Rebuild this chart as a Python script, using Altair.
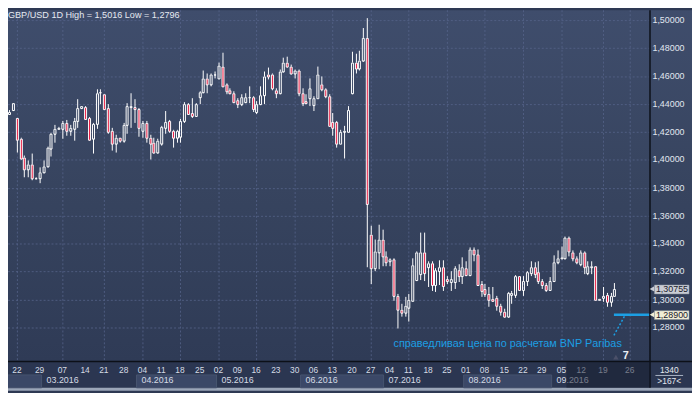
import altair as alt
import pandas as pd

# ---------------- data ----------------
opens = [1.4330, 1.4354, 1.4297, 1.4149, 1.4019, 1.3930, 1.3967, 1.3870, 1.3866, 1.3913,
         1.3953, 1.4078, 1.4184, 1.4224, 1.4220, 1.4267, 1.4208, 1.4220, 1.4278, 1.4368,
         1.4377, 1.4302, 1.4149, 1.4260, 1.4481, 1.4467, 1.4368, 1.4208, 1.4113, 1.4156,
         1.4137, 1.4250, 1.4377, 1.4377, 1.4361, 1.4208, 1.4267, 1.4161, 1.4125, 1.4054,
         1.4113, 1.4231, 1.4278, 1.4208, 1.4156, 1.4165, 1.4278, 1.4401, 1.4337, 1.4314,
         1.4448, 1.4486, 1.4580, 1.4538, 1.4609, 1.4585, 1.4668, 1.4538, 1.4495, 1.4479,
         1.4425, 1.4401, 1.4415, 1.4448, 1.4448, 1.4345, 1.4396, 1.4462, 1.4609, 1.4609,
         1.4495, 1.4479, 1.4632, 1.4698, 1.4668, 1.4616, 1.4637, 1.4479, 1.4420, 1.4439,
         1.4392, 1.4439, 1.4543, 1.4502, 1.4455, 1.4274, 1.4274, 1.4113, 1.4203, 1.4203,
         1.4479, 1.4698, 1.4651, 1.4708, 1.4873, 1.3465, 1.3222, 1.3340, 1.3429, 1.3307,
         1.3276, 1.3288, 1.3024, 1.2929, 1.2906, 1.2939, 1.2993, 1.3143, 1.3183, 1.3340,
         1.3229, 1.3260, 1.3104, 1.3205, 1.3229, 1.3146, 1.3127, 1.3127, 1.3212, 1.3165,
         1.3222, 1.3175, 1.3359, 1.3323, 1.3111, 1.3076, 1.3040, 1.3005, 1.3010, 1.2953,
         1.2911, 1.2875, 1.3033, 1.3033, 1.3165, 1.3071, 1.3135, 1.3189, 1.3229, 1.3194,
         1.3135, 1.3104, 1.3071, 1.3135, 1.3264, 1.3293, 1.3293, 1.3441, 1.3340, 1.3293,
         1.3252, 1.3340, 1.3189, 1.3229, 1.3236, 1.3000, 1.3010, 1.3033, 1.2986, 1.3029]
highs = [1.4356, 1.4406, 1.4300, 1.4156, 1.4031, 1.3996, 1.4042, 1.3875, 1.3948, 1.3996,
         1.4094, 1.4196, 1.4250, 1.4233, 1.4278, 1.4283, 1.4250, 1.4302, 1.4432, 1.4387,
         1.4382, 1.4307, 1.4267, 1.4502, 1.4507, 1.4472, 1.4396, 1.4231, 1.4177, 1.4160,
         1.4267, 1.4408, 1.4474, 1.4432, 1.4368, 1.4278, 1.4278, 1.4179, 1.4156, 1.4149,
         1.4243, 1.4349, 1.4283, 1.4212, 1.4212, 1.4290, 1.4415, 1.4408, 1.4443, 1.4408,
         1.4491, 1.4637, 1.4620, 1.4620, 1.4632, 1.4698, 1.4769, 1.4550, 1.4514, 1.4491,
         1.4439, 1.4472, 1.4479, 1.4526, 1.4455, 1.4420, 1.4526, 1.4632, 1.4661, 1.4620,
         1.4514, 1.4644, 1.4731, 1.4738, 1.4684, 1.4644, 1.4644, 1.4514, 1.4467, 1.4580,
         1.4455, 1.4668, 1.4597, 1.4514, 1.4467, 1.4337, 1.4278, 1.4212, 1.4243, 1.4384,
         1.4774, 1.4762, 1.4778, 1.4943, 1.5016, 1.3530, 1.3430, 1.3535, 1.3500, 1.3347,
         1.3293, 1.3293, 1.3040, 1.2969, 1.3017, 1.3040, 1.3293, 1.3347, 1.3482, 1.3477,
         1.3271, 1.3276, 1.3222, 1.3283, 1.3283, 1.3170, 1.3205, 1.3241, 1.3252, 1.3299,
         1.3276, 1.3371, 1.3371, 1.3359, 1.3135, 1.3111, 1.3088, 1.3088, 1.3024, 1.2969,
         1.2934, 1.3057, 1.3064, 1.3175, 1.3170, 1.3170, 1.3205, 1.3271, 1.3264, 1.3276,
         1.3146, 1.3118, 1.3158, 1.3316, 1.3354, 1.3378, 1.3448, 1.3448, 1.3354, 1.3307,
         1.3354, 1.3347, 1.3271, 1.3276, 1.3241, 1.3005, 1.3088, 1.3048, 1.3048, 1.3118]
lows = [1.4321, 1.4350, 1.4054, 1.4003, 1.3877, 1.3877, 1.3854, 1.3863, 1.3835, 1.3901,
        1.3948, 1.4024, 1.4125, 1.4220, 1.4153, 1.4172, 1.4172, 1.4137, 1.4231, 1.4366,
        1.4283, 1.4137, 1.4047, 1.4220, 1.4396, 1.4361, 1.4189, 1.4066, 1.4054, 1.4125,
        1.4125, 1.4189, 1.4231, 1.4262, 1.4165, 1.4161, 1.4125, 1.4003, 1.4042, 1.4042,
        1.4102, 1.4189, 1.4196, 1.4090, 1.4125, 1.4125, 1.4267, 1.4326, 1.4297, 1.4314,
        1.4396, 1.4479, 1.4474, 1.4526, 1.4580, 1.4580, 1.4526, 1.4467, 1.4467, 1.4408,
        1.4373, 1.4384, 1.4408, 1.4408, 1.4345, 1.4330, 1.4392, 1.4401, 1.4573, 1.4495,
        1.4439, 1.4472, 1.4627, 1.4661, 1.4609, 1.4585, 1.4455, 1.4384, 1.4396, 1.4384,
        1.4349, 1.4439, 1.4491, 1.4443, 1.4243, 1.4172, 1.4085, 1.4113, 1.4007, 1.4203,
        1.4472, 1.4620, 1.4637, 1.4700, 1.3231, 1.3111, 1.3200, 1.3218, 1.3241, 1.3241,
        1.3241, 1.2993, 1.2796, 1.2875, 1.2875, 1.2840, 1.2993, 1.3129, 1.3136, 1.3129,
        1.3088, 1.3064, 1.3057, 1.3104, 1.3064, 1.3111, 1.3064, 1.3076, 1.3123, 1.3111,
        1.3165, 1.3170, 1.3276, 1.3099, 1.3017, 1.3017, 1.2946, 1.2981, 1.2922, 1.2887,
        1.2868, 1.2868, 1.2969, 1.3010, 1.3064, 1.3024, 1.3099, 1.3170, 1.3151, 1.3111,
        1.3076, 1.3057, 1.3064, 1.3127, 1.3252, 1.3288, 1.3288, 1.3307, 1.3276, 1.3252,
        1.3241, 1.3182, 1.3175, 1.3182, 1.3000, 1.2998, 1.2982, 1.2946, 1.2946, 1.3024]
closes = [1.4345, 1.4403, 1.4142, 1.4012, 1.3930, 1.3967, 1.3866, 1.3868, 1.3913, 1.3953,
          1.4085, 1.4184, 1.4220, 1.4229, 1.4267, 1.4208, 1.4227, 1.4278, 1.4373, 1.4384,
          1.4290, 1.4142, 1.4260, 1.4479, 1.4486, 1.4361, 1.4203, 1.4113, 1.4156, 1.4137,
          1.4250, 1.4384, 1.4384, 1.4361, 1.4227, 1.4267, 1.4161, 1.4118, 1.4054, 1.4137,
          1.4236, 1.4274, 1.4208, 1.4156, 1.4208, 1.4278, 1.4401, 1.4330, 1.4314, 1.4401,
          1.4486, 1.4585, 1.4538, 1.4613, 1.4613, 1.4675, 1.4526, 1.4491, 1.4479, 1.4415,
          1.4401, 1.4448, 1.4448, 1.4451, 1.4361, 1.4401, 1.4462, 1.4597, 1.4597, 1.4510,
          1.4479, 1.4632, 1.4698, 1.4668, 1.4620, 1.4637, 1.4479, 1.4408, 1.4408, 1.4510,
          1.4439, 1.4609, 1.4502, 1.4455, 1.4243, 1.4227, 1.4113, 1.4203, 1.4205, 1.4354,
          1.4698, 1.4651, 1.4708, 1.4873, 1.3684, 1.3222, 1.3347, 1.3429, 1.3307, 1.3264,
          1.3288, 1.3024, 1.2929, 1.2906, 1.2953, 1.3000, 1.3245, 1.3340, 1.3340, 1.3189,
          1.3260, 1.3104, 1.3212, 1.3229, 1.3099, 1.3135, 1.3146, 1.3222, 1.3165, 1.3229,
          1.3175, 1.3359, 1.3323, 1.3104, 1.3064, 1.3040, 1.3000, 1.2993, 1.2953, 1.2911,
          1.2875, 1.3047, 1.3047, 1.3165, 1.3071, 1.3135, 1.3198, 1.3229, 1.3182, 1.3135,
          1.3104, 1.3071, 1.3135, 1.3264, 1.3293, 1.3300, 1.3441, 1.3347, 1.3293, 1.3264,
          1.3340, 1.3229, 1.3236, 1.3236, 1.3000, 1.3002, 1.3029, 1.2986, 1.3029, 1.30755]

price_ticks = [1.28, 1.30, 1.32, 1.34, 1.36, 1.38, 1.40, 1.42, 1.44, 1.46, 1.48, 1.50]
price_labels = ["1,28000", "1,30000", "1,32000", "1,34000", "1,36000", "1,38000",
                "1,40000", "1,42000", "1,44000", "1,46000", "1,48000", "1,50000"]

# weekly date labels and their place on the candle index axis
day_labels = ["22", "29", "07", "14", "21", "28", "04", "11", "18", "25", "02", "09", "16",
              "23", "30", "06", "13", "20", "27", "04", "11", "18", "25", "01", "08", "15",
              "22", "29", "05", "12", "19", "26"]
day_pos = [2, 8, 14, 20, 25, 30, 35, 40, 45, 50, 55, 60, 65, 70, 75, 80, 85, 90, 95, 100,
           105, 110, 115, 120, 125, 130, 135, 140, 145, 150.4, 156.1, 163]
grid_pos = [2, 14, 25, 35, 45, 55, 65, 75, 85, 95, 105, 115, 125, 135, 145, 156.1, 163]

months = ["02.2016", "03.2016", "04.2016", "05.2016", "06.2016", "07.2016", "08.2016", "09.2016"]
month_start = [-0.5, 8.5, 33.5, 54.5, 76.5, 98.5, 119.5, 142.5]
month_end = [8.5, 33.5, 54.5, 76.5, 98.5, 119.5, 142.5, 170]
month_shaded = [True, False, True, False, True, False, True, False]

last_price = 1.30755
fair_value = 1.28900
tag_labels = ["1,30755", "1,28900"]
title_text = "GBP/USD 1D High = 1,5016 Low = 1,2796"
note_text = "справедливая цена по расчетам BNP Paribas"
note_link_i = [158.9, 161.7]
note_link_p = [1.2745, 1.2887]

# ---------------- layout ----------------
W, H = 692, 385          # whole chart (page minus 8px margin)
PR = 649                 # x of right price panel separator
PB = 355                 # y of date axis top
X0, DX = -4.0, 3.908     # chart x of candle 0, px per candle
Y0, KY = 10.0, 1413.6    # chart y of price 1.50, px per unit of price

xs = alt.Scale(domain=[(0 - X0) / DX, (W - X0) / DX], nice=False, zero=False, round=True)
ys = alt.Scale(domain=[1.5 - (H - Y0) / KY, 1.5 + Y0 / KY], nice=False, zero=False, round=True)

one = pd.DataFrame({"a": [0]})
FONT = "Liberation Sans"

df = pd.DataFrame({"i": range(len(opens)), "o": opens, "h": highs, "l": lows, "c": closes})
df["top"] = df[["o", "c"]].max(axis=1)
df["bot"] = df[["o", "c"]].min(axis=1)
df["up"] = df["c"] >= df["o"]

X = lambda f: alt.X(f, type="quantitative", scale=xs, axis=None)
Y = lambda f: alt.Y(f, type="quantitative", scale=ys, axis=None)

grad = alt.LinearGradient(
    gradient="linear", x1=0, x2=0, y1=0, y2=1,
    stops=[alt.GradientStop(color="#3f4d6c", offset=0),
           alt.GradientStop(color="#37445f", offset=0.5),
           alt.GradientStop(color="#2f3b56", offset=1)])

bg = alt.Chart(one).mark_rect(fill=grad).encode(
    x=alt.value(0), x2=alt.value(W), y=alt.value(0), y2=alt.value(PB))
strip = alt.Chart(one).mark_rect(fill="#2b3651").encode(
    x=alt.value(0), x2=alt.value(W), y=alt.value(PB), y2=alt.value(H))
border = alt.Chart(one).mark_rect(fill="#9ba6b8").encode(
    x=alt.value(0), x2=alt.value(W), y=alt.value(H - 3), y2=alt.value(H))

mdf = pd.DataFrame({"m": months, "s": month_start, "e": month_end, "sh": month_shaded})
mboxes = alt.Chart(mdf).transform_filter("datum.sh").mark_rect(
    fill="#3b4867", stroke="#47546f", strokeWidth=1).encode(
    x=X("s"), x2="e", y=alt.value(369), y2=alt.value(382))
mtext = alt.Chart(mdf).transform_filter("datum.s > 0").mark_text(
    font=FONT, fontSize=9, color="#d5dbe5", align="left", baseline="middle", dx=5).encode(
    x=X("s"), y=alt.value(374.5), text="m:N")

gdf = pd.DataFrame({"g": grid_pos})
vgrid = alt.Chart(gdf).mark_rule(color="#56648a", strokeDash=[2, 2], strokeWidth=1,
                                 xOffset=0.5, opacity=0.8).encode(
    x=X("g"), y=alt.value(0), y2=alt.value(PB))
pdf = pd.DataFrame({"p": price_ticks, "t": price_labels})
hgrid = alt.Chart(pdf).mark_rule(color="#56648a", strokeDash=[2, 2], strokeWidth=1,
                                 yOffset=0.5, opacity=0.8).encode(
    y=Y("p"), x=alt.value(0), x2=alt.value(PR))
plabels = alt.Chart(pdf).mark_text(font=FONT, fontSize=9, color="#e0e6ef",
                                   align="left", baseline="middle").encode(
    y=Y("p"), x=alt.value(652), text="t:N")

ddf = pd.DataFrame({"d": day_labels, "x": day_pos})
dlabels = alt.Chart(ddf).mark_text(font=FONT, fontSize=8.5, color="#d5dbe5",
                                   align="center", baseline="middle").encode(
    x=X("x"), y=alt.value(363.7), text="d:N")

wick_hi = alt.Chart(df).mark_rule(color="white", strokeWidth=1, xOffset=0.5).encode(
    x=X("i"), y=Y("h"), y2="top")
wick_lo = alt.Chart(df).mark_rule(color="white", strokeWidth=1, xOffset=0.5).encode(
    x=X("i"), y=Y("bot"), y2="l")
bull = alt.Chart(df).transform_filter("datum.up").mark_bar(
    size=2, fillOpacity=0, stroke="white", strokeWidth=1,
    xOffset=0.5, yOffset=0.5, y2Offset=0.5).encode(x=X("i"), y=Y("top"), y2="bot")
bear = alt.Chart(df).transform_filter("!datum.up").mark_bar(
    size=2, fill="#e8143c", stroke="white", strokeWidth=1,
    xOffset=0.5, yOffset=0.5, y2Offset=0.5).encode(x=X("i"), y=Y("top"), y2="bot")

sep_v = alt.Chart(one).mark_rule(color="#0c1018", strokeWidth=1.5).encode(
    x=alt.value(PR + 0.5), y=alt.value(0), y2=alt.value(H - 3))
sep_h = alt.Chart(one).mark_rule(color="#0c1018", strokeWidth=1.5).encode(
    y=alt.value(PB + 0.5), x=alt.value(0), x2=alt.value(W))

fv = pd.DataFrame({"i": [note_link_i[0]], "p": [fair_value]})
fv_line = alt.Chart(fv).mark_rule(color="#1c9fe4", strokeWidth=2.5).encode(
    x=X("i"), x2=alt.value(PR), y=Y("p"))
ldf = pd.DataFrame({"i": [note_link_i[0]], "i2": [note_link_i[1]],
                    "p": [note_link_p[0]], "p2": [note_link_p[1]]})
link = alt.Chart(ldf).mark_rule(color="#1c9fe4", strokeWidth=1.5, strokeDash=[2, 2]).encode(
    x=X("i"), x2="i2", y=Y("p"), y2="p2")
note = alt.Chart(one).mark_text(font=FONT, fontSize=11, color="#1c9fe4",
                                align="right", baseline="middle").encode(
    x=alt.value(621), y=alt.value(338), text=alt.value(note_text))

tag = pd.DataFrame({"p": [last_price, fair_value], "t": tag_labels,
                    "f": ["#c8ccd4", "#efedd6"]})
tag["p1"] = tag["p"] + 4.5 / KY
tag["p2"] = tag["p"] - 4.5 / KY
tag_box = alt.Chart(tag).mark_rect(stroke="#8c929e", strokeWidth=0.5).encode(
    y=Y("p1"), y2="p2", x=alt.value(654), x2=alt.value(689),
    fill=alt.Fill("f:N", scale=None))
tag_arrow = alt.Chart(tag).mark_point(shape="triangle-left", filled=True, size=28,
                                      opacity=1).encode(
    y=Y("p"), x=alt.value(651.5), fill=alt.Fill("f:N", scale=None))
tag_text = alt.Chart(tag).mark_text(font=FONT, fontSize=9, color="#1b202b",
                                    align="left", baseline="middle").encode(
    y=Y("p"), x=alt.value(655.5), text="t:N")

overlay = alt.Chart(one).mark_rect(fill="#161c2c", opacity=0.5).encode(
    x=alt.value(565), x2=alt.value(PR), y=alt.value(PB + 1), y2=alt.value(H - 3))

title = alt.Chart(one).mark_text(font=FONT, fontSize=9.2, color="#e6eaf1",
                                 align="left", baseline="top").encode(
    x=alt.value(0), y=alt.value(1), text=alt.value(title_text))

marker = alt.Chart(one).mark_point(shape="triangle-up", filled=True, size=30,
                                   color="#4b5069", opacity=1).encode(
    x=alt.value(615), y=alt.value(351))
seven = alt.Chart(one).mark_text(font=FONT, fontSize=11, fontWeight="bold", color="#eef1f6",
                                 align="center", baseline="middle").encode(
    x=alt.value(625), y=alt.value(350), text=alt.value("7"))

box_txt = alt.Chart(pd.DataFrame({"t": ["1340", ">167<"], "y": [363.7, 374.7]})).mark_text(
    font=FONT, fontSize=8.5, color="#e3e8f0", align="center", baseline="middle").encode(
    x=alt.value(669), y=alt.Y("y:Q", scale=None), text="t:N")
box_line = alt.Chart(one).mark_rule(color="#aab3c4", strokeWidth=1).encode(
    x=alt.value(655), x2=alt.value(683), y=alt.value(369.5))

chart = alt.layer(
    bg, strip, border, mboxes, vgrid, hgrid,
    wick_hi, wick_lo, bull, bear,
    fv_line, link, note, marker, seven,
    sep_v, sep_h, plabels, tag_box, tag_arrow, tag_text,
    dlabels, mtext, overlay, title, box_txt, box_line
).properties(width=W, height=H, padding=0, autosize="none", background="#2e3953"
).configure_view(stroke="transparent")

chart.save("out.html", embed_options={"renderer": "svg", "actions": False})
